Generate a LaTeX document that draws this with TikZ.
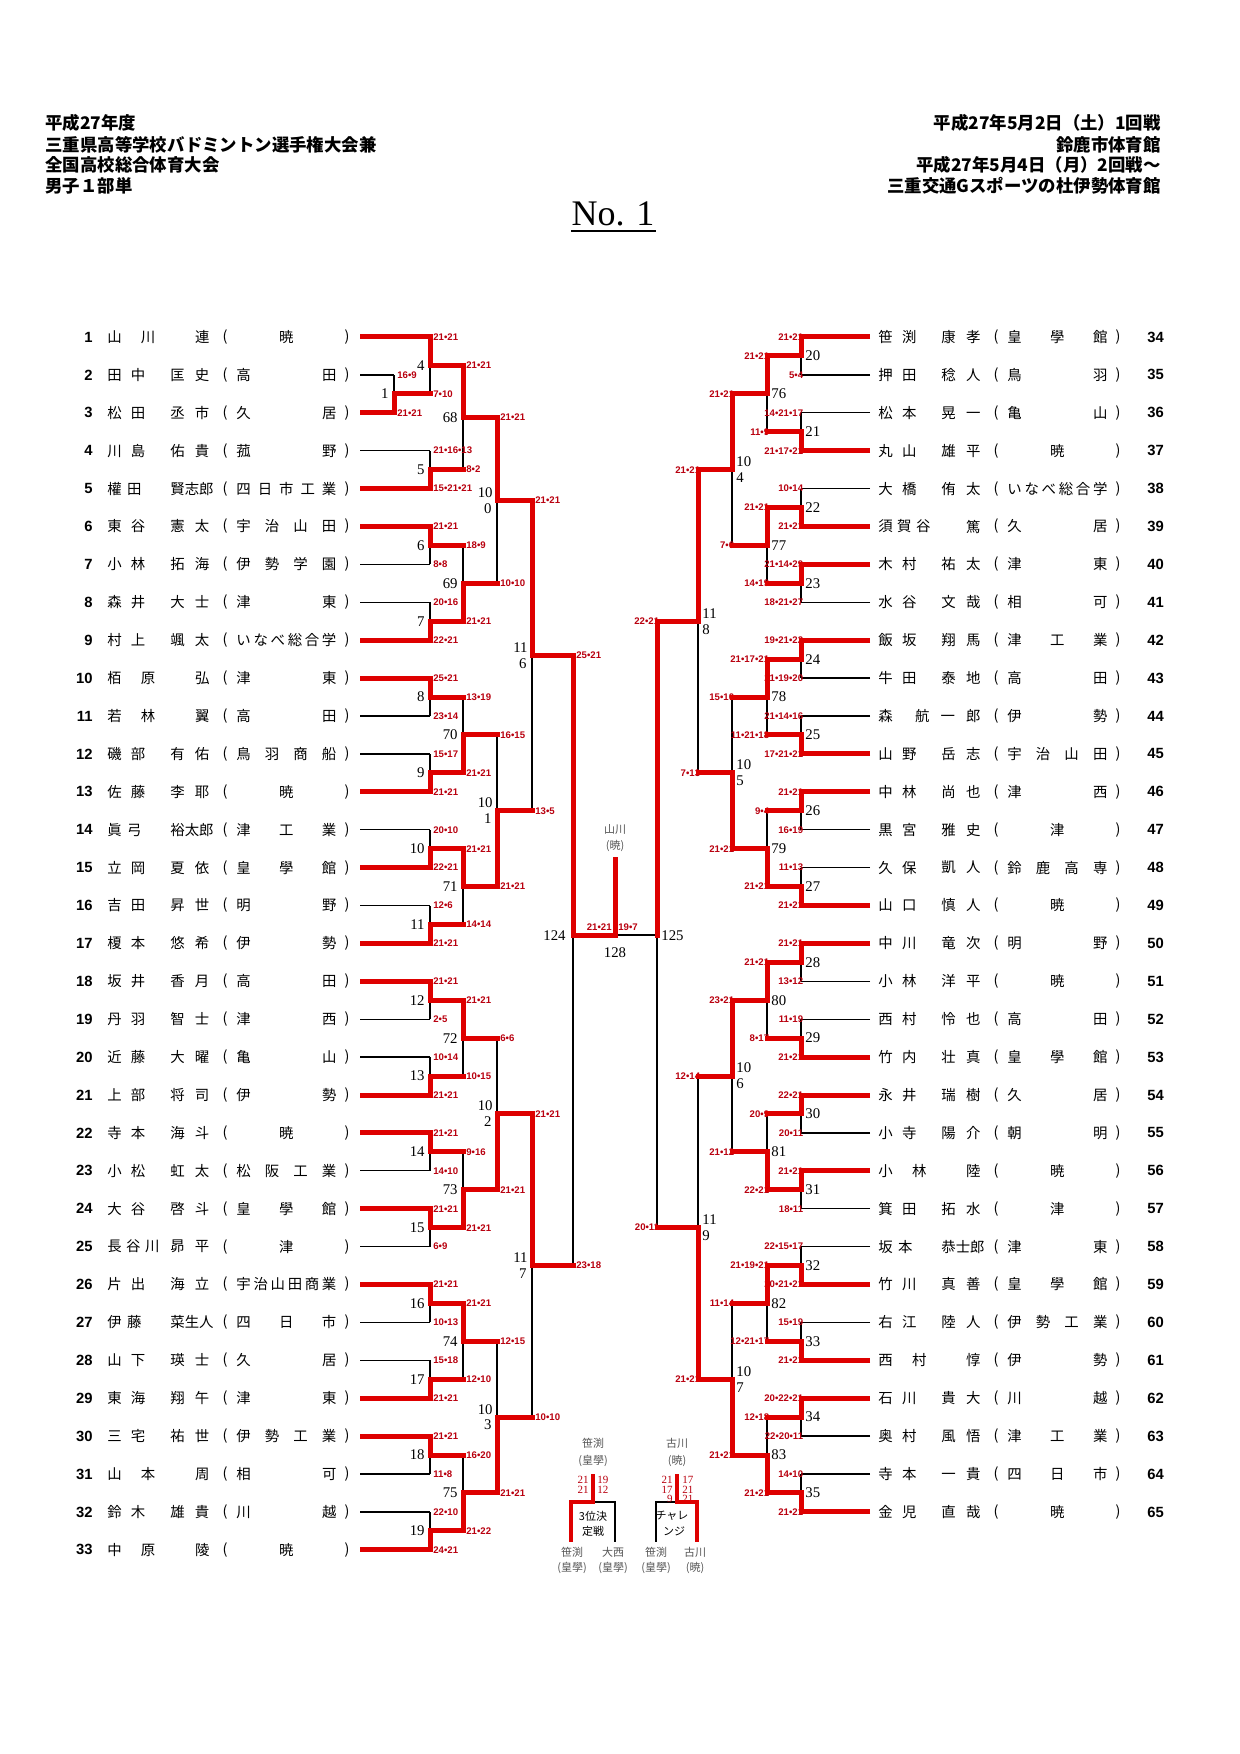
\documentclass[tikz,border=0pt]{standalone}
\usepackage{fontspec}
\setmainfont{Liberation Serif}
\newfontfamily\cjk{Noto Sans CJK JP}
\newfontfamily\arialf{Liberation Sans}
\pgfdeclarelayer{paper}\pgfdeclarelayer{bg}\pgfdeclarelayer{fg}\pgfsetlayers{paper,bg,main,fg}
\definecolor{rl}{RGB}{222,0,0}
\definecolor{rt}{RGB}{185,0,15}
\definecolor{gry}{RGB}{85,85,85}
\newcounter{nodecount}
\tikzset{
 every node/.append style={/utils/exec={\stepcounter{nodecount}},name=nd\arabic{nodecount}},
 rd/.style={draw=rl,line width=2.5pt,line cap=rect},
 rdp/.style={draw=rl,line width=2.5pt},
 rd3/.style={draw=rl,line width=2pt,line join=miter},
 bl/.style={draw=black,line width=0.65pt},
 nm/.style={font=\cjk\fontsize{7.2}{8}\selectfont,inner sep=0pt},
 num/.style={font=\arialf\bfseries\fontsize{7.4}{8}\selectfont,inner sep=0pt},
 sc/.style={font=\arialf\bfseries\fontsize{4.8}{5}\selectfont,text=rt,inner sep=0pt},
 mn/.style={font=\fontsize{7.4}{8}\selectfont,inner sep=0pt},
 hd/.style={font=\cjk\bfseries\fontsize{8.7}{10}\selectfont,inner sep=0pt},
 gt/.style={font=\cjk\fontsize{5.5}{6}\selectfont,text=gry,inner sep=0pt},
 bt/.style={font=\cjk\fontsize{5.5}{6}\selectfont,inner sep=0pt},
 ss/.style={font=\fontsize{5.5}{6}\selectfont,text=rt,inner sep=0pt},
}
\newcommand\zFa[1]{\makebox[19pt][s]{#1}}
\newcommand\zFn[1]{\makebox[17pt][s]{#1}}
\newcommand\zFw[1]{\makebox[24pt][s]{#1}}
\newcommand\zFt[1]{\makebox[26pt][s]{#1}}
\newcommand\zGv[1]{\makebox[19.5pt][s]{#1}}
\newcommand\zSc[1]{\makebox[50pt][s]{#1}}
\newcommand\zLN[5]{%
 \node[num,anchor=east] at (93,#2) {#1};
 \node[nm,anchor=west] at (107,#2) {#3};
 \node[nm,anchor=west] at (170,#2) {#4};
 \node[nm] at (225,#2) {(};
 \node[nm,anchor=west] at (236,#2) {#5};
 \node[nm] at (347,#2) {)};}
\newcommand\zRN[5]{%
 \node[num,anchor=west] at (1147,#2) {#1};
 \node[nm,anchor=west] at (878,#2) {#3};
 \node[nm,anchor=west] at (941,#2) {#4};
 \node[nm] at (996,#2) {(};
 \node[nm,anchor=west] at (1007,#2) {#5};
 \node[nm] at (1118,#2) {)};}
% left match: x, next x, winner y, loser y, winner label, loser label, number
\newcommand\zLM[7]{%
 \pgfmathsetmacro\zmid{(#3+#4)/2}%
 \begin{pgfonlayer}{bg}\draw[bl] (#1,\zmid) -- (#1,#4);\end{pgfonlayer}
 \begin{pgfonlayer}{fg}\draw[rd] (#1,#3) -- (#1,\zmid); \draw[rd] (#1,\zmid) -- (#2,\zmid);\end{pgfonlayer}
 \node[sc,anchor=west] at (#1+3,#3) {#5};
 \node[sc,anchor=west] at (#1+3,#4) {#6};
 \node[mn,anchor=east] at (#1-5,\zmid) {#7};}
\newcommand\zRM[7]{%
 \pgfmathsetmacro\zmid{(#3+#4)/2}%
 \begin{pgfonlayer}{bg}\draw[bl] (#1,\zmid) -- (#1,#4);\end{pgfonlayer}
 \begin{pgfonlayer}{fg}\draw[rd] (#1,#3) -- (#1,\zmid); \draw[rd] (#1,\zmid) -- (#2,\zmid);\end{pgfonlayer}
 \node[sc,anchor=east] at (#1+2.5,#3) {#5};
 \node[sc,anchor=east] at (#1+2.5,#4) {#6};
 \node[mn,anchor=west] at (#1+4,\zmid) {#7};}
\newcommand\zLS[4]{\node[mn,anchor=east] at (#1-4,#2-8) {#3}; \node[mn,anchor=east] at (#1-5,#2+8) {#4};}
\newcommand\zRS[4]{\node[mn,anchor=west] at (#1+4,#2-8) {#3}; \node[mn,anchor=west] at (#1+4,#2+8) {#4};}
\newcommand\zPr[3]{\begin{pgfonlayer}{fg}\draw[rdp] (#1,#3) -- (#2,#3);\end{pgfonlayer}}
\newcommand\zPb[3]{\begin{pgfonlayer}{bg}\draw[bl] (#1,#3) -- (#2,#3);\end{pgfonlayer}}
\begin{document}
\begin{tikzpicture}[x=0.5pt,y=-0.5pt]
\begin{pgfonlayer}{paper}
\fill[white] (0,0) rectangle (1239,1754);
\end{pgfonlayer}
\useasboundingbox (0,0) rectangle (1239,1754);
% header
\node[hd,anchor=west] at (45,123) {平成27年度};
\node[hd,anchor=west] at (45,145) {三重県高等学校バドミントン選手権大会兼};
\node[hd,anchor=west] at (45,165) {全国高校総合体育大会};
\node[hd,anchor=west] at (45,186) {男子１部単};
\node[hd,anchor=east] at (1161,123) {平成27年5月2日（土）1回戦};
\node[hd,anchor=east] at (1161,145) {鈴鹿市体育館};
\node[hd,anchor=east] at (1161,165) {平成27年5月4日（月）2回戦～};
\node[hd,anchor=east] at (1161,186) {三重交通Gスポーツの杜伊勢体育館};
\node[font=\fontsize{18}{20}\selectfont,inner sep=0pt] (title) at (613,214) {No. 1};
\draw[line width=0.8pt] (571,231) -- (656,231);
% left names
\zLN{1}{337}{\zFw{山\hfill 川}}{\zGv{\hfill 連}}{\zSc{\hfill 暁\hfill}}
\zLN{2}{374.9}{\zFa{田\hfill 中}}{\zGv{匡\hfill 史}}{\zSc{高\hfill 田}}
\zLN{3}{412.8}{\zFa{松\hfill 田}}{\zGv{丞\hfill 市}}{\zSc{久\hfill 居}}
\zLN{4}{450.7}{\zFa{川\hfill 島}}{\zGv{佑\hfill 貴}}{\zSc{菰\hfill 野}}
\zLN{5}{488.6}{\zFn{權\hfill 田}}{\zGv{賢\hfill 志\hfill 郎}}{\zSc{四\hfill 日\hfill 市\hfill 工\hfill 業}}
\zLN{6}{526.5}{\zFa{東\hfill 谷}}{\zGv{憲\hfill 太}}{\zSc{宇\hfill 治\hfill 山\hfill 田}}
\zLN{7}{564.4}{\zFa{小\hfill 林}}{\zGv{拓\hfill 海}}{\zSc{伊\hfill 勢\hfill 学\hfill 園}}
\zLN{8}{602.3}{\zFa{森\hfill 井}}{\zGv{大\hfill 士}}{\zSc{津\hfill 東}}
\zLN{9}{640.2}{\zFa{村\hfill 上}}{\zGv{颯\hfill 太}}{\zSc{い\hfill な\hfill べ\hfill 総\hfill 合\hfill 学}}
\zLN{10}{678.1}{\zFw{栢\hfill 原}}{\zGv{\hfill 弘}}{\zSc{津\hfill 東}}
\zLN{11}{716.0}{\zFw{若\hfill 林}}{\zGv{\hfill 翼}}{\zSc{高\hfill 田}}
\zLN{12}{753.9}{\zFa{磯\hfill 部}}{\zGv{有\hfill 佑}}{\zSc{鳥\hfill 羽\hfill 商\hfill 船}}
\zLN{13}{791.8}{\zFa{佐\hfill 藤}}{\zGv{李\hfill 耶}}{\zSc{\hfill 暁\hfill}}
\zLN{14}{829.7}{\zFn{眞\hfill 弓}}{\zGv{裕\hfill 太\hfill 郎}}{\zSc{津\hfill 工\hfill 業}}
\zLN{15}{867.6}{\zFa{立\hfill 岡}}{\zGv{夏\hfill 依}}{\zSc{皇\hfill 學\hfill 館}}
\zLN{16}{905.5}{\zFa{吉\hfill 田}}{\zGv{昇\hfill 世}}{\zSc{明\hfill 野}}
\zLN{17}{943.4}{\zFa{榎\hfill 本}}{\zGv{悠\hfill 希}}{\zSc{伊\hfill 勢}}
\zLN{18}{981.3}{\zFa{坂\hfill 井}}{\zGv{香\hfill 月}}{\zSc{高\hfill 田}}
\zLN{19}{1019.2}{\zFa{丹\hfill 羽}}{\zGv{智\hfill 士}}{\zSc{津\hfill 西}}
\zLN{20}{1057.1}{\zFa{近\hfill 藤}}{\zGv{大\hfill 曜}}{\zSc{亀\hfill 山}}
\zLN{21}{1095.0}{\zFa{上\hfill 部}}{\zGv{将\hfill 司}}{\zSc{伊\hfill 勢}}
\zLN{22}{1132.9}{\zFa{寺\hfill 本}}{\zGv{海\hfill 斗}}{\zSc{\hfill 暁\hfill}}
\zLN{23}{1170.8}{\zFa{小\hfill 松}}{\zGv{虹\hfill 太}}{\zSc{松\hfill 阪\hfill 工\hfill 業}}
\zLN{24}{1208.7}{\zFa{大\hfill 谷}}{\zGv{啓\hfill 斗}}{\zSc{皇\hfill 學\hfill 館}}
\zLN{25}{1246.6}{\zFt{長\hfill 谷\hfill 川}}{\zGv{昴\hfill 平}}{\zSc{\hfill 津\hfill}}
\zLN{26}{1284.5}{\zFa{片\hfill 出}}{\zGv{海\hfill 立}}{\zSc{宇\hfill 治\hfill 山\hfill 田\hfill 商\hfill 業}}
\zLN{27}{1322.4}{\zFn{伊\hfill 藤}}{\zGv{菜\hfill 生\hfill 人}}{\zSc{四\hfill 日\hfill 市}}
\zLN{28}{1360.3}{\zFa{山\hfill 下}}{\zGv{瑛\hfill 士}}{\zSc{久\hfill 居}}
\zLN{29}{1398.2}{\zFa{東\hfill 海}}{\zGv{翔\hfill 午}}{\zSc{津\hfill 東}}
\zLN{30}{1436.1}{\zFa{三\hfill 宅}}{\zGv{祐\hfill 世}}{\zSc{伊\hfill 勢\hfill 工\hfill 業}}
\zLN{31}{1474.0}{\zFw{山\hfill 本}}{\zGv{\hfill 周}}{\zSc{相\hfill 可}}
\zLN{32}{1511.9}{\zFa{鈴\hfill 木}}{\zGv{雄\hfill 貴}}{\zSc{川\hfill 越}}
\zLN{33}{1549.8}{\zFw{中\hfill 原}}{\zGv{\hfill 陵}}{\zSc{\hfill 暁\hfill}}
% right names
\zRN{34}{337}{\zFa{笹\hfill 渕}}{\zGv{康\hfill 孝}}{\zSc{皇\hfill 學\hfill 館}}
\zRN{35}{374.9}{\zFa{押\hfill 田}}{\zGv{稔\hfill 人}}{\zSc{鳥\hfill 羽}}
\zRN{36}{412.8}{\zFa{松\hfill 本}}{\zGv{晃\hfill 一}}{\zSc{亀\hfill 山}}
\zRN{37}{450.7}{\zFa{丸\hfill 山}}{\zGv{雄\hfill 平}}{\zSc{\hfill 暁\hfill}}
\zRN{38}{488.6}{\zFa{大\hfill 橋}}{\zGv{侑\hfill 太}}{\zSc{い\hfill な\hfill べ\hfill 総\hfill 合\hfill 学}}
\zRN{39}{526.5}{\zFt{須\hfill 賀\hfill 谷}}{\zGv{\hfill 篤}}{\zSc{久\hfill 居}}
\zRN{40}{564.4}{\zFa{木\hfill 村}}{\zGv{祐\hfill 太}}{\zSc{津\hfill 東}}
\zRN{41}{602.3}{\zFa{水\hfill 谷}}{\zGv{文\hfill 哉}}{\zSc{相\hfill 可}}
\zRN{42}{640.2}{\zFa{飯\hfill 坂}}{\zGv{翔\hfill 馬}}{\zSc{津\hfill 工\hfill 業}}
\zRN{43}{678.1}{\zFa{牛\hfill 田}}{\zGv{泰\hfill 地}}{\zSc{高\hfill 田}}
\zRN{44}{716.0}{\makebox[51pt][s]{森\hfill\hfill 航\hfill 一\hfill 郎}}{}{\zSc{伊\hfill 勢}}
\zRN{45}{753.9}{\zFa{山\hfill 野}}{\zGv{岳\hfill 志}}{\zSc{宇\hfill 治\hfill 山\hfill 田}}
\zRN{46}{791.8}{\zFa{中\hfill 林}}{\zGv{尚\hfill 也}}{\zSc{津\hfill 西}}
\zRN{47}{829.7}{\zFa{黒\hfill 宮}}{\zGv{雅\hfill 史}}{\zSc{\hfill 津\hfill}}
\zRN{48}{867.6}{\zFa{久\hfill 保}}{\zGv{凱\hfill 人}}{\zSc{鈴\hfill 鹿\hfill 高\hfill 専}}
\zRN{49}{905.5}{\zFa{山\hfill 口}}{\zGv{慎\hfill 人}}{\zSc{\hfill 暁\hfill}}
\zRN{50}{943.4}{\zFa{中\hfill 川}}{\zGv{竜\hfill 次}}{\zSc{明\hfill 野}}
\zRN{51}{981.3}{\zFa{小\hfill 林}}{\zGv{洋\hfill 平}}{\zSc{\hfill 暁\hfill}}
\zRN{52}{1019.2}{\zFa{西\hfill 村}}{\zGv{怜\hfill 也}}{\zSc{高\hfill 田}}
\zRN{53}{1057.1}{\zFa{竹\hfill 内}}{\zGv{壮\hfill 真}}{\zSc{皇\hfill 學\hfill 館}}
\zRN{54}{1095.0}{\zFa{永\hfill 井}}{\zGv{瑞\hfill 樹}}{\zSc{久\hfill 居}}
\zRN{55}{1132.9}{\zFa{小\hfill 寺}}{\zGv{陽\hfill 介}}{\zSc{朝\hfill 明}}
\zRN{56}{1170.8}{\zFw{小\hfill 林}}{\zGv{\hfill 陸}}{\zSc{\hfill 暁\hfill}}
\zRN{57}{1208.7}{\zFa{箕\hfill 田}}{\zGv{拓\hfill 水}}{\zSc{\hfill 津\hfill}}
\zRN{58}{1246.6}{\zFn{坂\hfill 本}}{\zGv{恭\hfill 士\hfill 郎}}{\zSc{津\hfill 東}}
\zRN{59}{1284.5}{\zFa{竹\hfill 川}}{\zGv{真\hfill 善}}{\zSc{皇\hfill 學\hfill 館}}
\zRN{60}{1322.4}{\zFa{右\hfill 江}}{\zGv{陸\hfill 人}}{\zSc{伊\hfill 勢\hfill 工\hfill 業}}
\zRN{61}{1360.3}{\zFw{西\hfill 村}}{\zGv{\hfill 惇}}{\zSc{伊\hfill 勢}}
\zRN{62}{1398.2}{\zFa{石\hfill 川}}{\zGv{貴\hfill 大}}{\zSc{川\hfill 越}}
\zRN{63}{1436.1}{\zFa{奥\hfill 村}}{\zGv{風\hfill 悟}}{\zSc{津\hfill 工\hfill 業}}
\zRN{64}{1474.0}{\zFa{寺\hfill 本}}{\zGv{一\hfill 貴}}{\zSc{四\hfill 日\hfill 市}}
\zRN{65}{1511.9}{\zFa{金\hfill 児}}{\zGv{直\hfill 哉}}{\zSc{\hfill 暁\hfill}}
% left player lines
\zPr{360}{430}{337}
\zPb{360}{394}{374.9}
\zPr{360}{394}{412.8}
\zPb{360}{430}{450.7}
\zPr{360}{430}{488.6}
\zPr{360}{430}{526.5}
\zPb{360}{430}{564.4}
\zPb{360}{430}{602.3}
\zPr{360}{430}{640.2}
\zPr{360}{430}{678.1}
\zPb{360}{430}{716.0}
\zPb{360}{430}{753.9}
\zPr{360}{430}{791.8}
\zPb{360}{430}{829.7}
\zPr{360}{430}{867.6}
\zPb{360}{430}{905.5}
\zPr{360}{430}{943.4}
\zPr{360}{430}{981.3}
\zPb{360}{430}{1019.2}
\zPb{360}{430}{1057.1}
\zPr{360}{430}{1095.0}
\zPr{360}{430}{1132.9}
\zPb{360}{430}{1170.8}
\zPr{360}{430}{1208.7}
\zPb{360}{430}{1246.6}
\zPr{360}{430}{1284.5}
\zPb{360}{430}{1322.4}
\zPb{360}{430}{1360.3}
\zPr{360}{430}{1398.2}
\zPr{360}{430}{1436.1}
\zPb{360}{430}{1474.0}
\zPb{360}{430}{1511.9}
\zPr{360}{430}{1549.8}
% right player lines
\zPr{870}{801}{337}
\zPb{870}{801}{374.9}
\zPb{870}{801}{412.8}
\zPr{870}{801}{450.7}
\zPb{870}{801}{488.6}
\zPr{870}{801}{526.5}
\zPr{870}{801}{564.4}
\zPb{870}{801}{602.3}
\zPr{870}{801}{640.2}
\zPb{870}{801}{678.1}
\zPb{870}{801}{716.0}
\zPr{870}{801}{753.9}
\zPr{870}{801}{791.8}
\zPb{870}{801}{829.7}
\zPb{870}{801}{867.6}
\zPr{870}{801}{905.5}
\zPr{870}{801}{943.4}
\zPb{870}{801}{981.3}
\zPb{870}{801}{1019.2}
\zPr{870}{801}{1057.1}
\zPr{870}{801}{1095.0}
\zPb{870}{801}{1132.9}
\zPr{870}{801}{1170.8}
\zPb{870}{801}{1208.7}
\zPb{870}{801}{1246.6}
\zPr{870}{801}{1284.5}
\zPb{870}{801}{1322.4}
\zPr{870}{801}{1360.3}
\zPr{870}{801}{1398.2}
\zPb{870}{801}{1436.1}
\zPb{870}{801}{1474.0}
\zPr{870}{801}{1511.9}
% left round 1
\zLM{394}{430}{412.8}{374.9}{21•21}{16•9}{1}
\zLM{430}{463}{337}{393.85}{21•21}{7•10}{4}
\zLM{430}{463}{488.6}{450.7}{15•21•21}{21•16•13}{5}
\zLM{430}{463}{526.5}{564.4}{21•21}{8•8}{6}
\zLM{430}{463}{640.2}{602.3}{22•21}{20•16}{7}
\zLM{430}{463}{678.1}{716.0}{25•21}{23•14}{8}
\zLM{430}{463}{791.8}{753.9}{21•21}{15•17}{9}
\zLM{430}{463}{867.6}{829.7}{22•21}{20•10}{10}
\zLM{430}{463}{943.4}{905.5}{21•21}{12•6}{11}
\zLM{430}{463}{981.3}{1019.2}{21•21}{2•5}{12}
\zLM{430}{463}{1095.0}{1057.1}{21•21}{10•14}{13}
\zLM{430}{463}{1132.9}{1170.8}{21•21}{14•10}{14}
\zLM{430}{463}{1208.7}{1246.6}{21•21}{6•9}{15}
\zLM{430}{463}{1284.5}{1322.4}{21•21}{10•13}{16}
\zLM{430}{463}{1398.2}{1360.3}{21•21}{15•18}{17}
\zLM{430}{463}{1436.1}{1474.0}{21•21}{11•8}{18}
\zLM{430}{463}{1549.8}{1511.9}{24•21}{22•10}{19}
% left round 2
\zLM{463}{497}{365.425}{469.65}{21•21}{8•2}{68}
\zLM{463}{497}{621.25}{545.45}{21•21}{18•9}{69}
\zLM{463}{497}{772.85}{697.05}{21•21}{13•19}{70}
\zLM{463}{497}{848.65}{924.45}{21•21}{14•14}{71}
\zLM{463}{497}{1000.25}{1076.05}{21•21}{10•15}{72}
\zLM{463}{497}{1227.65}{1151.85}{21•21}{9•16}{73}
\zLM{463}{497}{1303.45}{1379.25}{21•21}{12•10}{74}
\zLM{463}{497}{1530.85}{1455.05}{21•22}{16•20}{75}
% left round 3
\zLM{497}{532}{417.54}{583.35}{21•21}{10•10}{}
\zLS{497}{500.44}{10}{0}
\zLM{497}{532}{886.55}{734.95}{21•21}{16•15}{}
\zLS{497}{810.75}{10}{1}
\zLM{497}{532}{1189.75}{1038.15}{21•21}{6•6}{}
\zLS{497}{1113.95}{10}{2}
\zLM{497}{532}{1492.95}{1341.35}{21•21}{12•15}{}
\zLS{497}{1417.15}{10}{3}
% left round 4
\zLM{532}{573}{500.44}{810.75}{21•21}{13•5}{}
\zLS{532}{655.6}{11}{6}
\zLM{532}{573}{1113.95}{1417.15}{21•21}{10•10}{}
\zLS{532}{1265.55}{11}{7}
% right round 1
\zRM{801}{767}{337}{374.9}{21•21}{5•4}{20}
\zRM{801}{767}{450.7}{412.8}{21•17•21}{14•21•17}{21}
\zRM{801}{767}{526.5}{488.6}{21•21}{10•14}{22}
\zRM{801}{767}{564.4}{602.3}{21•14•29}{18•21•27}{23}
\zRM{801}{767}{640.2}{678.1}{19•21•22}{21•19•20}{24}
\zRM{801}{767}{753.9}{716.0}{17•21•21}{21•14•16}{25}
\zRM{801}{767}{791.8}{829.7}{21•21}{16•19}{26}
\zRM{801}{767}{905.5}{867.6}{21•21}{11•13}{27}
\zRM{801}{767}{943.4}{981.3}{21•21}{13•12}{28}
\zRM{801}{767}{1057.1}{1019.2}{21•21}{11•19}{29}
\zRM{801}{767}{1095.0}{1132.9}{22•21}{20•11}{30}
\zRM{801}{767}{1170.8}{1208.7}{21•21}{18•11}{31}
\zRM{801}{767}{1284.5}{1246.6}{20•21•21}{22•15•17}{32}
\zRM{801}{767}{1360.3}{1322.4}{21•21}{15•19}{33}
\zRM{801}{767}{1398.2}{1436.1}{20•22•21}{22•20•11}{34}
\zRM{801}{767}{1511.9}{1474.0}{21•21}{14•10}{35}
% right round 2
\zRM{767}{732}{355.95}{431.75}{21•21}{11•9}{76}
\zRM{767}{732}{507.55}{583.35}{21•21}{14•19}{77}
\zRM{767}{732}{659.15}{734.95}{21•17•21}{11•21•18}{78}
\zRM{767}{732}{886.55}{810.75}{21•21}{9•4}{79}
\zRM{767}{732}{962.35}{1038.15}{21•21}{8•17}{80}
\zRM{767}{732}{1189.75}{1113.95}{22•21}{20•9}{81}
\zRM{767}{732}{1265.55}{1341.35}{21•19•21}{12•21•17}{82}
\zRM{767}{732}{1492.95}{1417.15}{21•21}{12•18}{83}
% right round 3
\zRM{732}{698}{393.85}{545.45}{21•21}{7•6}{}
\zRS{732}{469.65}{10}{4}
\zRM{732}{698}{848.65}{697.05}{21•21}{15•10}{}
\zRS{732}{772.85}{10}{5}
\zRM{732}{698}{1000.25}{1151.85}{23•21}{21•12}{}
\zRS{732}{1076.05}{10}{6}
\zRM{732}{698}{1455.05}{1303.45}{21•21}{11•14}{}
\zRS{732}{1379.25}{10}{7}
% right round 4
\zRM{698}{657}{469.65}{772.85}{21•21}{7•13}{}
\zRS{698}{621.25}{11}{8}
\zRM{698}{657}{1379.25}{1076.05}{21•21}{12•14}{}
\zRS{698}{1227.65}{11}{9}
% semifinals and final
\begin{pgfonlayer}{bg}
\draw[bl] (573,935) -- (573,1265.55);
\draw[bl] (657,935) -- (657,1227.65);
\draw[bl] (615,935) -- (657,935);
\end{pgfonlayer}
\begin{pgfonlayer}{fg}
\draw[rd] (573,655.6) -- (573,935);
\draw[rd] (657,621.25) -- (657,935);
\draw[rd,line join=miter] (573,935) -- (615,935) -- (615,859);
\end{pgfonlayer}
\node[sc,anchor=west] at (576,655.6) {25•21};
\node[sc,anchor=west] at (576,1265.55) {23•18};
\node[sc,anchor=east] at (659.5,621.25) {22•21};
\node[sc,anchor=east] at (659.5,1227.65) {20•11};
\node[sc,anchor=east] at (612,927) {21•21};
\node[sc,anchor=west] at (618,927) {19•7};
\node[mn,anchor=east] at (566,936) {124};
\node[mn,anchor=west] at (661,936) {125};
\node[mn] at (615,953) {128};
\node[gt] at (615,829) {山川};
\node[gt] at (615,846) {(暁)};
% 3rd place playoff
\node[gt] at (593,1443) {笹渕};
\node[gt] at (593,1461) {(皇學)};
\begin{pgfonlayer}{bg}\draw[bl] (593,1502) -- (615,1502) -- (615,1542);\end{pgfonlayer}
\begin{pgfonlayer}{fg}\draw[rd3] (593,1474) -- (593,1502) -- (571,1502) -- (571,1542);\end{pgfonlayer}
\node[ss,anchor=east] at (589,1480) {21};
\node[ss,anchor=east] at (589,1490) {21};
\node[ss,anchor=west] at (597,1480) {19};
\node[ss,anchor=west] at (597,1490) {12};
\node[bt] at (593,1516) {3位決};
\node[bt] at (593,1531) {定戦};
\node[gt] at (572,1552) {笹渕};
\node[gt] at (572,1568) {(皇學)};
\node[gt] at (613,1552) {大西};
\node[gt] at (613,1568) {(皇學)};
% challenge match
\node[gt] at (677,1443) {古川};
\node[gt] at (677,1461) {(暁)};
\begin{pgfonlayer}{bg}\draw[bl] (677,1502) -- (656,1502) -- (656,1542);\end{pgfonlayer}
\begin{pgfonlayer}{fg}\draw[rd3] (677,1474) -- (677,1502) -- (697,1502) -- (697,1542);\end{pgfonlayer}
\node[ss,anchor=east] at (673,1480) {21};
\node[ss,anchor=east] at (673,1490) {17};
\node[ss,anchor=east] at (673,1499) {9};
\node[ss,anchor=west] at (682,1480) {17};
\node[ss,anchor=west] at (682,1490) {21};
\node[ss,anchor=west] at (682,1499) {21};
\node[bt] at (672,1516) {チャレ};
\node[bt] at (674,1531) {ンジ};
\node[gt] at (656,1552) {笹渕};
\node[gt] at (656,1568) {(皇學)};
\node[gt] at (695,1552) {古川};
\node[gt] at (695,1568) {(暁)};
\end{tikzpicture}
\end{document}
